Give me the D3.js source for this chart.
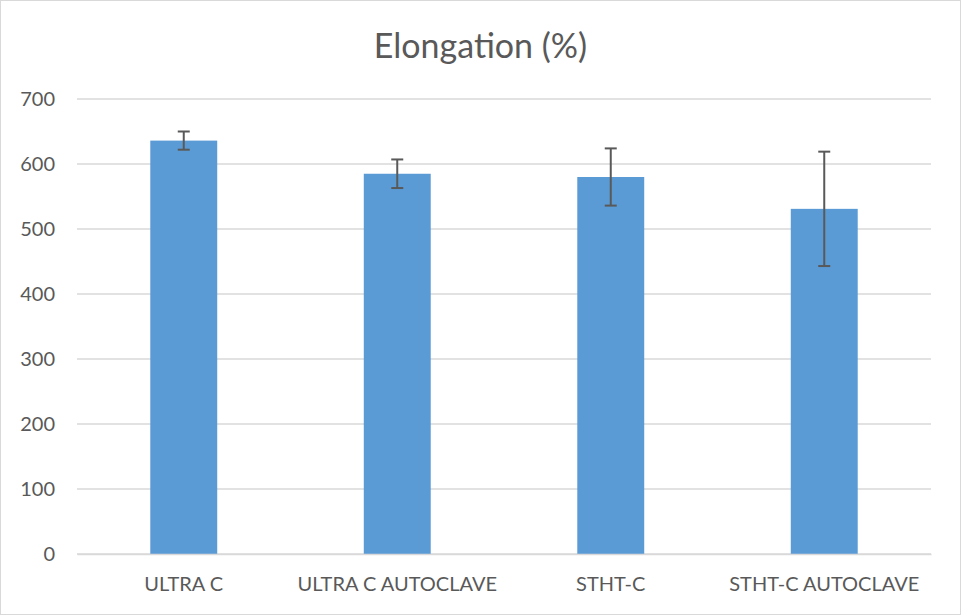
<!DOCTYPE html>
<html>
<head>
<meta charset="utf-8">
<script src="https://cdn.jsdelivr.net/npm/d3@7"></script>
<style>
  body { margin: 0; background: #fff; }
  svg { display: block; font-family: Lato, "Open Sans", sans-serif; }
</style>
</head>
<body>
<svg id="chart" width="961" height="615"></svg>
<script>
// Données
const categories = ["ULTRA C", "ULTRA C AUTOCLAVE", "STHT-C", "STHT-C AUTOCLAVE"];
const values = [636, 585, 580, 531];
const errors = [14, 22, 44, 88];
const yTicks = [0, 100, 200, 300, 400, 500, 600, 700];

const data = categories.map((c, i) => ({ cat: c, value: values[i], err: errors[i] }));

const W = 961, H = 615;
const margin = { top: 99, right: 30, bottom: 61, left: 77 };
const width = W - margin.left - margin.right;
const height = H - margin.top - margin.bottom;

const svg = d3.select("#chart");

// Bordure du graphique
svg.append("rect")
    .attr("x", 0.5).attr("y", 0.5)
    .attr("width", W - 1).attr("height", H - 1)
    .attr("fill", "#fff")
    .attr("stroke", "#d9d9d9");

// Titre
svg.append("text")
    .attr("x", W / 2)
    .attr("y", 58)
    .attr("text-anchor", "middle")
    .attr("fill", "#595959")
    .style("font-size", "34px")
    .text("Elongation (%)");

const g = svg.append("g")
    .attr("transform", `translate(${margin.left},${margin.top})`);

const x = d3.scaleBand()
    .domain(categories)
    .range([0, width])
    .paddingInner(0)
    .paddingOuter(0);

const y = d3.scaleLinear()
    .domain([0, 700])
    .range([height, 0]);

// Lignes de grille
g.append("g")
    .selectAll("line")
    .data(yTicks)
    .enter()
    .append("line")
    .attr("x1", 0)
    .attr("x2", width)
    .attr("y1", d => y(d))
    .attr("y2", d => y(d))
    .attr("stroke", "#d9d9d9")
    .attr("stroke-width", 1.5);

// Axe Y
const yAxis = g.append("g")
    .call(d3.axisLeft(y).tickValues(yTicks).tickSize(0).tickPadding(22));
yAxis.select(".domain").remove();
yAxis.selectAll("text")
    .attr("fill", "#595959")
    .style("font-size", "20px")
    .style("font-family", "Lato, sans-serif");

// Barres
const barW = x.bandwidth() / 3.19;
g.selectAll(".bar")
    .data(data)
    .enter()
    .append("rect")
    .attr("class", "bar")
    .attr("x", d => x(d.cat) + (x.bandwidth() - barW) / 2)
    .attr("y", d => y(d.value))
    .attr("width", barW)
    .attr("height", d => y(0) - y(d.value))
    .attr("fill", "#5b9bd5");

// Barres d'erreur
const eb = g.selectAll(".err")
    .data(data)
    .enter()
    .append("g")
    .attr("class", "err")
    .attr("stroke", "#595959")
    .attr("stroke-width", 2);

eb.append("line")
    .attr("x1", d => x(d.cat) + x.bandwidth() / 2)
    .attr("x2", d => x(d.cat) + x.bandwidth() / 2)
    .attr("y1", d => y(d.value + d.err))
    .attr("y2", d => y(d.value - d.err));

eb.append("line")
    .attr("x1", d => x(d.cat) + x.bandwidth() / 2 - 6)
    .attr("x2", d => x(d.cat) + x.bandwidth() / 2 + 6)
    .attr("y1", d => y(d.value + d.err))
    .attr("y2", d => y(d.value + d.err));

eb.append("line")
    .attr("x1", d => x(d.cat) + x.bandwidth() / 2 - 6)
    .attr("x2", d => x(d.cat) + x.bandwidth() / 2 + 6)
    .attr("y1", d => y(d.value - d.err))
    .attr("y2", d => y(d.value - d.err));

// Axe X
const xAxis = g.append("g")
    .attr("transform", `translate(0,${height})`)
    .call(d3.axisBottom(x).tickSize(0).tickPadding(23));
xAxis.select(".domain")
    .attr("stroke", "#d9d9d9")
    .attr("stroke-width", 1.5);
xAxis.selectAll("text")
    .attr("fill", "#595959")
    .style("font-size", "20px")
    .style("font-family", "Lato, sans-serif");
</script>
</body>
</html>
